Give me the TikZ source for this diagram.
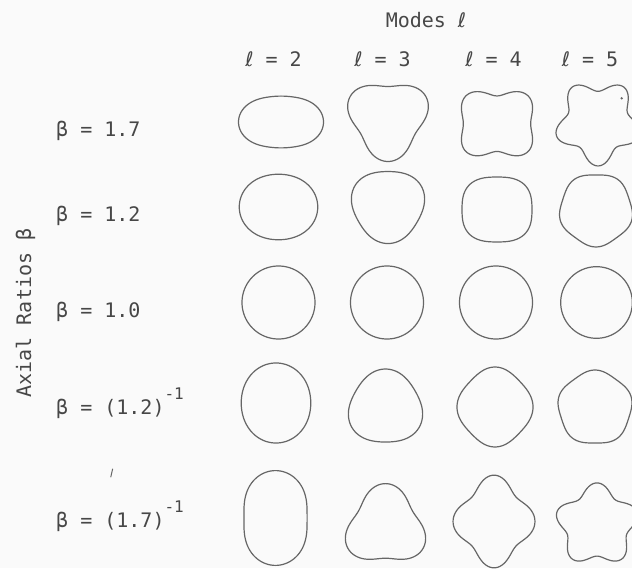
\documentclass[tikz,border=0pt]{standalone}
\usepackage{fontspec}
\setmonofont{DejaVu Sans Mono}
\newfontfamily\ellfont{DejaVu Sans}
\usetikzlibrary{positioning}
\tikzset{
  modeshape/.style={draw=black!60,line width=1.2pt,line join=round},
  labeltext/.style={font=\ttfamily\fontsize{20}{24}\selectfont,text=black!72,inner sep=0pt,anchor=base},
  ratiolabel/.style={labeltext,anchor=base west},
  specks/.style={black!60,line width=1pt,line cap=round}
}
\newcommand{\ellsym}{{\ellfont ℓ}}
\newcommand{\invpow}{\raisebox{15pt}{\fontsize{16}{16}\selectfont -1}}

\begin{document}
\begin{tikzpicture}[x=1pt,y=1pt]
  \fill[black!2] (0,0) rectangle (632,568);
  \useasboundingbox (0,0) rectangle (632,568);
  % headings
  \node[labeltext] (modes) at (426,540) {Modes \ellsym};
  \foreach \m/\cx in {2/273.5,3/382.5,4/493.5,5/590}
    \node[labeltext] (mode\m) at (\cx,501) {\ellsym{} = \m};
  \node[labeltext,rotate=90] (axial) at (31,255) {Axial Ratios β};
  \node[ratiolabel] (ratio1) at (56,431) {β = 1.7};
  \node[ratiolabel] (ratio2) at (56,346) {β = 1.2};
  \node[ratiolabel] (ratio3) at (56,250) {β = 1.0};
  \node[ratiolabel] (ratio4) at (56,153) {β = (1.2)\invpow};
  \node[ratiolabel] (ratio5) at (56,41) {β = (1.7)\invpow};
  % shapes r = R (1 + eps cos(m t + phase) + h cos(k t)), stretch sx
  \foreach \cx/\cy/\m/\ph/\ep/\hb/\hk/\rad/\sx in {
      281/446/2/0/0.25/0.03/4/33.2/1, 388/450/3/-90/0.16/0/2/37.5/1,
      497/444.3/4/180/0.15/0.07/2/36.1/1.014, 598/445.7/5/90/0.17/0/2/37.3/1,
      278.5/361/2/0/0.09/0/2/36/1, 388/362.8/3/-90/0.065/0/2/36/1,
      497/358.5/4/180/0.045/0/2/35.3/1.038, 596/358.3/5/90/0.035/0/2/36/1,
      278.5/265.5/2/0/0/0/2/36.5/1, 387/265.5/3/0/0/0/2/36.5/1,
      496/265.5/4/0/0/0/2/36.5/1, 596.5/265.5/5/0/0/0/2/35.8/1,
      276/165/2/0/-0.07/0/2/37.4/1, 385.5/160.1/3/-90/-0.065/0/2/36.5/1,
      495/161/4/180/-0.045/0/2/37.3/0.975, 595/160.2/5/90/-0.035/0/2/36.5/1,
      275.5/50/2/0/-0.2/0/2/39.5/1, 385.5/41.1/3/-90/-0.16/0/2/37.3/1,
      494/46.5/4/180/-0.14/0/2/38.2/0.94, 597/43/5/90/-0.15/0/2/36.6/1}
    \draw[modeshape] plot[domain=0:360,samples=181,variable=\t]
      ({\cx+\sx*\rad*(1+\ep*cos(\m*\t+\ph)+\hb*cos(\hk*\t))*cos(\t)},
       {\cy+\rad/\sx*(1+\ep*cos(\m*\t+\ph)+\hb*cos(\hk*\t))*sin(\t)}) -- cycle;
  % marks on the sheet
  \fill[black!60] (621.7,469.7) circle (1.3);
  \draw[specks] (110.8,91) -- (112.6,99);
\end{tikzpicture}
\end{document}
